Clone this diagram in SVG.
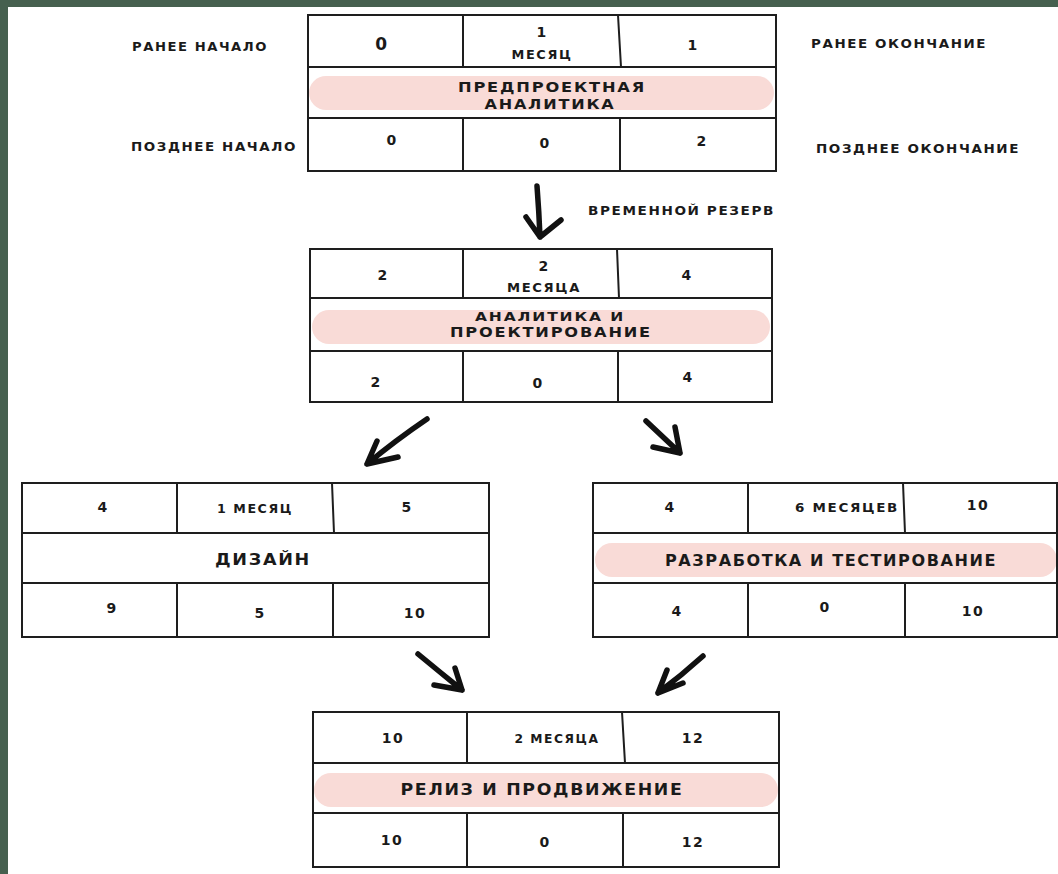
<svg xmlns="http://www.w3.org/2000/svg" width="1058" height="874" viewBox="0 0 1058 874">
<style>
.bg{fill:#ffffff}
.frame{fill:#46604f}
.ln{stroke:#1e1e1e;stroke-width:2;fill:none;stroke-linecap:square}
.pill{fill:#f9dbd7}
.t{font-family:"DejaVu Sans","Liberation Sans",sans-serif;font-weight:bold;fill:#1a1a1a;text-anchor:middle;font-size:12px;letter-spacing:1.5px}
.h{font-family:"DejaVu Sans","Liberation Sans",sans-serif;font-weight:bold;fill:#1a1a1a;text-anchor:middle;font-size:15.5px;letter-spacing:1.5px}
.n{font-family:"DejaVu Sans","Liberation Sans",sans-serif;font-weight:bold;fill:#1a1a1a;text-anchor:middle;font-size:14px;letter-spacing:1.5px}
.lbl{font-family:"DejaVu Sans","Liberation Sans",sans-serif;font-weight:bold;fill:#1a1a1a;font-size:12.8px;letter-spacing:1.5px}
.arr{stroke:#111;stroke-width:5.5;fill:none;stroke-linecap:round;stroke-linejoin:round}
</style>
<rect class="bg" x="0" y="0" width="1058" height="874"/>
<rect class="frame" x="0" y="0" width="1058" height="7"/>
<rect class="frame" x="0" y="0" width="8" height="874"/>

<g id="legend">
<text class="lbl" x="132" y="51" textLength="136" lengthAdjust="spacingAndGlyphs">РАНЕЕ НАЧАЛО</text>
<text class="lbl" x="131" y="151" textLength="166" lengthAdjust="spacingAndGlyphs">ПОЗДНЕЕ НАЧАЛО</text>
<text class="lbl" x="811" y="48" textLength="176" lengthAdjust="spacingAndGlyphs">РАНЕЕ ОКОНЧАНИЕ</text>
<text class="lbl" x="816" y="153" textLength="204" lengthAdjust="spacingAndGlyphs">ПОЗДНЕЕ ОКОНЧАНИЕ</text>
<text class="lbl" x="588" y="215" textLength="187" lengthAdjust="spacingAndGlyphs">ВРЕМЕННОЙ РЕЗЕРВ</text>
</g>

<g id="node-preproject">
<rect class="pill" x="309" y="76" width="465" height="34" rx="17"/>
<path class="ln" d="M308 15 H776 M308 67 H776 M308 118 H776 M308 171 H776 M308 15 V171 M776 15 V171 M463 15 V67 M618 15 L621 67 M463 118 V171 M620 118 V171"/>
<text class="n" x="382" y="50" style="font-size:17px">0</text>
<text class="n" x="542" y="37">1</text>
<text class="t" x="542" y="59" textLength="61" lengthAdjust="spacingAndGlyphs">МЕСЯЦ</text>
<text class="n" x="693" y="50">1</text>
<text class="h" x="552" y="92" textLength="188" lengthAdjust="spacingAndGlyphs" style="font-size:13.5px">ПРЕДПРОЕКТНАЯ</text>
<text class="h" x="550" y="109" textLength="131" lengthAdjust="spacingAndGlyphs" style="font-size:13.5px">АНАЛИТИКА</text>
<text class="n" x="392" y="145">0</text>
<text class="n" x="545" y="148">0</text>
<text class="n" x="702" y="146">2</text>
</g>

<g id="node-analytics">
<rect class="pill" x="312" y="310" width="458" height="34" rx="17"/>
<path class="ln" d="M310 249 H772 M310 298 H772 M310 351 H772 M310 402 H772 M310 249 V402 M772 249 V402 M463 249 V298 M617 249 L619 298 M463 351 V402 M618 351 V402"/>
<text class="n" x="383" y="280">2</text>
<text class="n" x="544" y="271">2</text>
<text class="t" x="544" y="292" textLength="74" lengthAdjust="spacingAndGlyphs">МЕСЯЦА</text>
<text class="n" x="687" y="280">4</text>
<text class="h" x="550" y="321" textLength="150" lengthAdjust="spacingAndGlyphs" style="font-size:12.5px">АНАЛИТИКА И</text>
<text class="h" x="551" y="337" textLength="202" lengthAdjust="spacingAndGlyphs" style="font-size:13.5px">ПРОЕКТИРОВАНИЕ</text>
<text class="n" x="376" y="387">2</text>
<text class="n" x="538" y="388">0</text>
<text class="n" x="688" y="382">4</text>
</g>

<g id="node-design">
<path class="ln" d="M22 483 H489 M22 533 H489 M22 583 H489 M22 637 H489 M22 483 V637 M489 483 V637 M177 483 V533 M332 483 L334 533 M177 583 V637 M333 583 V637"/>
<text class="n" x="103" y="512">4</text>
<text class="t" x="255" y="513" textLength="76" lengthAdjust="spacingAndGlyphs">1 МЕСЯЦ</text>
<text class="n" x="407" y="512">5</text>
<text class="h" x="263" y="565" textLength="96" lengthAdjust="spacingAndGlyphs">ДИЗАЙН</text>
<text class="n" x="112" y="613">9</text>
<text class="n" x="260" y="618">5</text>
<text class="n" x="415" y="618">10</text>
</g>

<g id="node-dev">
<rect class="pill" x="595" y="543" width="462" height="34" rx="17"/>
<path class="ln" d="M593 483 H1058 M593 533 H1058 M593 583 H1058 M593 637 H1058 M593 483 V637 M1057 483 V637 M748 483 V533 M903 483 L905 533 M748 583 V637 M905 583 V637"/>
<text class="n" x="670" y="512">4</text>
<text class="t" x="847" y="512" textLength="104" lengthAdjust="spacingAndGlyphs">6 МЕСЯЦЕВ</text>
<text class="n" x="978" y="510">10</text>
<text class="h" x="831" y="566" textLength="332" lengthAdjust="spacingAndGlyphs">РАЗРАБОТКА И ТЕСТИРОВАНИЕ</text>
<text class="n" x="677" y="616">4</text>
<text class="n" x="825" y="612">0</text>
<text class="n" x="973" y="616">10</text>
</g>

<g id="node-release">
<rect class="pill" x="314" y="773" width="464" height="34" rx="17"/>
<path class="ln" d="M313 712 H779 M313 763 H779 M313 813 H779 M313 867 H779 M313 712 V867 M779 712 V867 M467 712 V763 M622 712 L625 763 M467 813 V867 M623 813 V867"/>
<text class="n" x="393" y="743">10</text>
<text class="t" x="557" y="743" textLength="85" lengthAdjust="spacingAndGlyphs">2 МЕСЯЦА</text>
<text class="n" x="693" y="743">12</text>
<text class="h" x="542" y="795" textLength="283" lengthAdjust="spacingAndGlyphs">РЕЛИЗ И ПРОДВИЖЕНИЕ</text>
<text class="n" x="392" y="845">10</text>
<text class="n" x="545" y="847">0</text>
<text class="n" x="693" y="847">12</text>
</g>

<g id="connectors">
<path class="arr" d="M537 186 Q539 212 540 237 M526 217 L540 237 L561 220"/>
<path class="arr" d="M427 419 Q396 440 367 464 M377 441 L367 464 L398 457"/>
<path class="arr" d="M646 421 Q664 438 680 453 M675 427 L680 453 L653 447"/>
<path class="arr" d="M418 654 Q441 673 462 690 M455 668 L462 690 L434 685"/>
<path class="arr" d="M703 656 Q681 676 658 693 M667 670 L658 693 L683 683"/>
</g>
</svg>
